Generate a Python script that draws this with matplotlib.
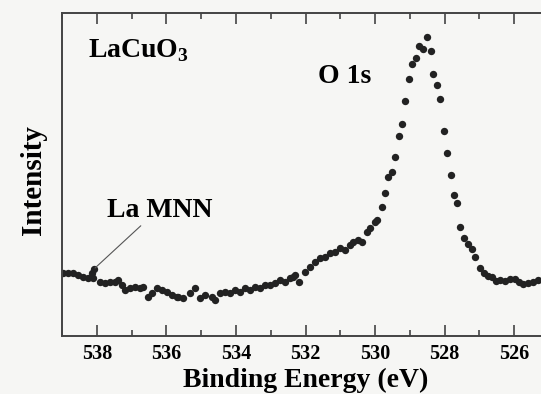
import matplotlib
matplotlib.use("Agg")
import matplotlib.pyplot as plt
from matplotlib.ticker import MultipleLocator

# O 1s XPS spectrum of LaCuO3
binding_energy = [
    538.96, 538.82, 538.67, 538.53, 538.39, 538.24, 538.14, 538.10, 538.08, 537.91,
    537.76, 537.62, 537.47, 537.38, 537.28, 537.19, 537.04, 536.90, 536.76, 536.66,
    536.52, 536.42, 536.28, 536.13, 535.99, 535.84, 535.70, 535.66, 535.51, 535.32,
    535.18, 535.03, 534.89, 534.70, 534.60, 534.46, 534.31, 534.17, 534.03, 533.88,
    533.74, 533.59, 533.45, 533.31, 533.16, 533.02, 532.88, 532.73, 532.59, 532.45,
    532.35, 532.30, 532.18, 532.01, 531.87, 531.73, 531.58, 531.44, 531.29, 531.15,
    531.01, 530.86, 530.72, 530.63, 530.48, 530.39, 530.24, 530.15, 530.00, 529.94,
    529.81, 529.72, 529.63, 529.52, 529.43, 529.31, 529.22, 529.14, 529.02, 528.93,
    528.82, 528.73, 528.63, 528.51, 528.40, 528.33, 528.23, 528.13, 528.02, 527.93,
    527.83, 527.72, 527.64, 527.55, 527.43, 527.32, 527.22, 527.12, 526.99, 526.87,
    526.75, 526.65, 526.51, 526.41, 526.27, 526.12, 525.97, 525.87, 525.74, 525.60,
    525.45, 525.31,
]
intensity = [
    62.7, 62.7, 62.7, 61.0, 59.3, 57.7, 62.7, 57.7, 67.0, 54.3,
    52.7, 54.3, 54.3, 56.0, 51.0, 46.0, 47.7, 49.3, 47.7, 49.3,
    39.3, 42.7, 47.7, 46.0, 44.3, 41.0, 39.3, 39.3, 37.7, 42.7,
    47.7, 37.7, 41.0, 39.3, 36.0, 42.7, 44.3, 42.7, 46.0, 44.3,
    47.7, 46.0, 49.3, 47.7, 51.0, 51.0, 52.7, 56.0, 54.3, 57.7,
    59.3, 61.0, 54.3, 64.3, 69.3, 74.3, 77.7, 79.3, 82.7, 84.3,
    87.7, 86.0, 91.0, 94.3, 96.0, 94.3, 103.7, 107.7, 114.3, 116.0,
    128.7, 143.3, 158.7, 163.7, 179.3, 200.0, 211.7, 235.0, 256.7, 272.3,
    278.3, 290.0, 287.3, 299.0, 285.3, 262.3, 250.7, 237.3, 204.7, 183.3,
    160.7, 140.7, 132.7, 109.3, 97.7, 92.0, 87.3, 79.3, 67.7, 62.7,
    60.3, 59.3, 55.0, 56.0, 55.3, 56.7, 57.0, 54.3, 52.0, 52.7,
    54.3, 56.0,
]

plt.rcParams["font.family"] = ["Liberation Serif", "DejaVu Serif"]
plt.rcParams["mathtext.fontset"] = "custom"
plt.rcParams["mathtext.rm"] = "Liberation Serif:bold"

fig = plt.figure(figsize=(5.41, 3.94), dpi=100, facecolor="#f6f6f4")
# axes runs past the right edge of the scan, so its right spine is cut off
ax = fig.add_axes([0.1146, 0.1472, 0.9002, 0.8198])
ax.set_facecolor("#f6f6f4")

ax.plot(binding_energy, intensity, "o", color="#222222", markersize=5.3, markeredgewidth=0)

ax.set_xlim(539, 525)
ax.set_ylim(0, 323)

ax.xaxis.set_major_locator(MultipleLocator(2))
ax.xaxis.set_minor_locator(MultipleLocator(1))
ax.tick_params(axis="x", which="both", direction="in", top=True, bottom=True,
               color="#444444", width=1.2, labelsize=14.5, pad=6)
ax.tick_params(axis="x", which="major", length=8)
ax.tick_params(axis="x", which="minor", length=4)
for lbl in ax.get_xticklabels():
    lbl.set_fontweight("bold")
ax.set_yticks([])
for s in ax.spines.values():
    s.set_linewidth(1.4)
    s.set_color("#444444")

# axis titles placed by hand, the figure is cropped tight at the bottom
fig.text(0.5656, 0.019, "Binding Energy (eV)", ha="center", va="baseline",
         fontsize=20, fontweight="bold")
ax.text(-0.0595, 0.483, "Intensity", transform=ax.transAxes, rotation=90,
        ha="center", va="center", fontsize=21, fontweight="bold")

ax.text(538.25, 279, r"LaCuO$_{\mathrm{3}}$", fontsize=20, fontweight="bold", va="baseline")
ax.text(531.64, 253, "O 1s", fontsize=20, fontweight="bold", va="baseline")
ax.annotate("La MNN", xy=(538.05, 68), xytext=(537.71, 119), fontsize=20,
            fontweight="bold", va="baseline",
            arrowprops=dict(arrowstyle="-", color="#555555", lw=0.8,
                            shrinkA=0, shrinkB=0, relpos=(0.35, 0)))

fig.savefig("out.png", dpi=100, facecolor=fig.get_facecolor())
